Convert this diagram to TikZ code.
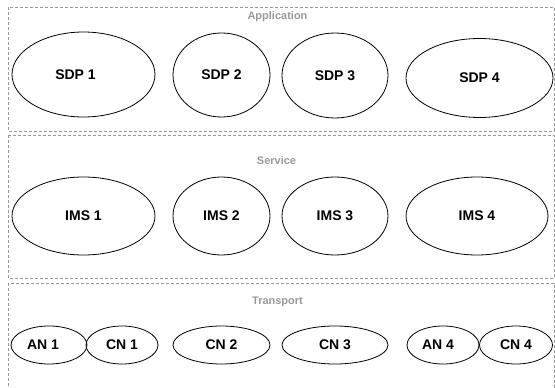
\documentclass[tikz,border=0pt]{standalone}
\usepackage{fontspec}
\setmainfont{Liberation Sans}
\usetikzlibrary{shapes.geometric}

\begin{document}
\begin{tikzpicture}[x=1pt,y=-1pt,
  layer/.style={draw=black!40,dash pattern=on 3pt off 2pt,line width=0.7pt},
  layername/.style={text=black!40,font=\fontsize{11}{13}\selectfont\bfseries},
  celltext/.style={font=\fontsize{14}{16}\selectfont\bfseries},
  cell/.style={draw,ellipse,inner sep=0pt,line width=0.8pt,celltext}]
\useasboundingbox (0,0) rectangle (555,388);
\clip (0,0) rectangle (555,388);
% layers
\draw[layer] (8,7) rectangle (554,131);
\draw[layer] (8,135) rectangle (554,278);
\draw[layer] (8,283) rectangle (554,400);
\node[layername] (app) at (277.5,17) {Application};
\node[layername] (srv) at (276.5,160.5) {Service};
\node[layername] (trp) at (277.5,302) {Transport};
% application
\node[cell,minimum width=143pt,minimum height=85pt,
  label={[celltext,xshift=-8pt]center:SDP 1}] (sdp1) at (83.5,74.5) {};
\node[cell,minimum width=97pt,minimum height=84pt] (sdp2) at (221.5,75) {SDP 2};
\node[cell,minimum width=106pt,minimum height=85pt] (sdp3) at (335,75.5) {SDP 3};
\node[cell,minimum width=147pt,minimum height=79pt] (sdp4) at (479.5,78) {SDP 4};
% service
\node[cell,minimum width=143pt,minimum height=78pt] (ims1) at (83.5,216) {IMS 1};
\node[cell,minimum width=97pt,minimum height=78pt] (ims2) at (221.5,216) {IMS 2};
\node[cell,minimum width=106pt,minimum height=78pt] (ims3) at (335,216) {IMS 3};
\node[cell,minimum width=142pt,minimum height=78pt] (ims4) at (477,216) {IMS 4};
% transport
\node[cell,minimum width=76pt,minimum height=38pt,
  label={[celltext,xshift=-6pt]center:AN 1}] (an1) at (49,345) {};
\node[cell,minimum width=72pt,minimum height=38pt] (cn1) at (122,345) {CN 1};
\node[cell,minimum width=97pt,minimum height=38pt] (cn2) at (221.5,345) {CN 2};
\node[cell,minimum width=106pt,minimum height=38pt] (cn3) at (335,345) {CN 3};
\node[cell,minimum width=72pt,minimum height=38pt,
  label={[celltext,xshift=-5pt]center:AN 4}] (an4) at (443,345) {};
\node[cell,minimum width=73pt,minimum height=38pt] (cn4) at (516,345) {CN 4};
\end{tikzpicture}
\end{document}
